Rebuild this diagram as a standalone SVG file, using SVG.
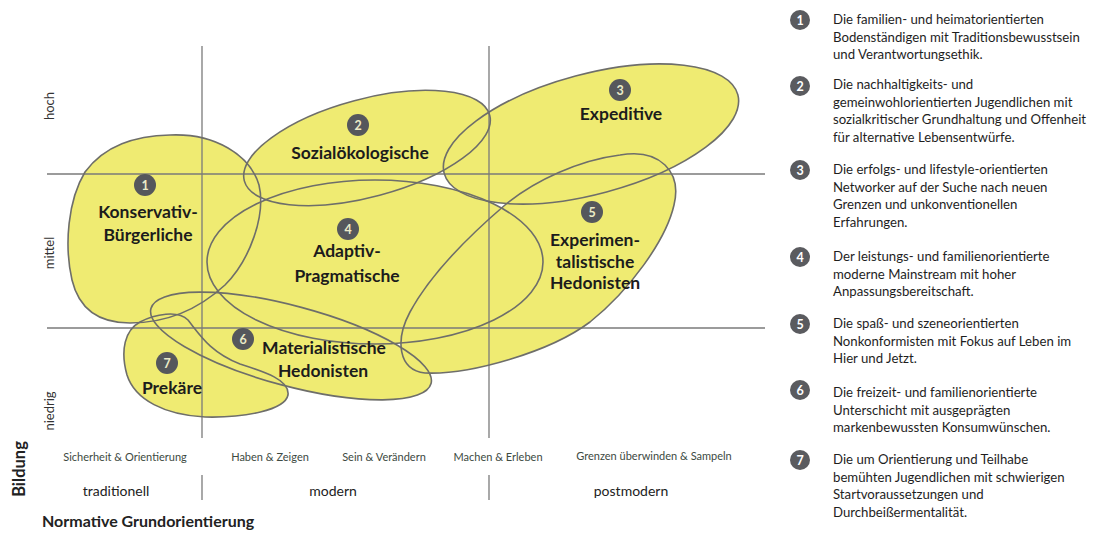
<svg xmlns="http://www.w3.org/2000/svg" xmlns:xlink="http://www.w3.org/1999/xlink" width="1100" height="534" viewBox="0 0 1100 534">
<style>
.fill{fill:#efeb72;stroke:none}
.out{fill:none;stroke:#6e6e6a;stroke-width:1.6}
.grid{stroke:#7a7a7a;stroke-width:1.3;fill:none}
.lbl{font-family:Lato,"Open Sans",sans-serif;font-weight:bold;font-size:17.5px;fill:#1c1c1c;text-anchor:middle}
.num{fill:#55575c}
.numt{font-family:Lato,"Open Sans",sans-serif;font-weight:bold;font-size:12.5px;fill:#ecebc8;text-anchor:middle}
.lnum{fill:#5a5b5f}
.lnumt{font-family:Lato,"Open Sans",sans-serif;font-weight:bold;font-size:12.5px;fill:#ffffff;text-anchor:middle}
.leg{font-family:Lato,"Open Sans",sans-serif;font-size:13.2px;fill:#1e1e1e}
.ax{font-family:Lato,"Open Sans",sans-serif;font-size:13px;fill:#333;text-anchor:middle}
.val{font-family:Lato,"Open Sans",sans-serif;font-size:11px;fill:#3d4a42;text-anchor:middle}
.era{font-family:Lato,"Open Sans",sans-serif;font-size:14px;fill:#222;text-anchor:middle}
.title{font-family:Lato,"Open Sans",sans-serif;font-weight:bold;font-size:16px;fill:#222}
</style>
<defs>
<path id="s1" d="M 170,135 C 215,133 250,155 259,185 C 266,215 250,260 225,285 C 200,308 170,323 130,323 C 95,323 78,305 72,280 C 64,245 68,200 85,172 C 105,145 135,136 170,135 Z"/>
<ellipse id="s2" cx="367" cy="148" rx="127" ry="49" transform="rotate(-15 367 148)"/>
<ellipse id="s3" cx="591" cy="134" rx="152" ry="60" transform="rotate(-15 591 134)"/>
<ellipse id="s4" cx="375" cy="262" rx="168" ry="82"/>
<path id="s5" d="M 620,155 C 660,148 682,172 674,205 C 666,240 630,290 590,322 C 550,352 470,375 425,373 C 398,370 395,340 410,312 C 430,275 470,235 505,205 C 535,180 580,160 620,155 Z"/>
<ellipse id="s6" cx="291" cy="346" rx="145" ry="40" transform="rotate(15 291 346)"/>
<path id="s7" d="M 140,322 C 155,314 178,310 188,320 C 200,335 210,352 240,364 C 265,372 290,380 288,395 C 285,410 245,418 205,417 C 165,415 135,400 127,375 C 120,350 125,330 140,322 Z"/>
</defs>
<rect width="1100" height="534" fill="#ffffff"/>
<g id="fills">
<use xlink:href="#s1" class="fill"/>
<use xlink:href="#s2" class="fill"/>
<use xlink:href="#s3" class="fill"/>
<use xlink:href="#s4" class="fill"/>
<use xlink:href="#s5" class="fill"/>
<use xlink:href="#s6" class="fill"/>
<use xlink:href="#s7" class="fill"/>
</g>
<g id="connectors">
<line class="grid" x1="47" y1="174" x2="765" y2="174"/>
<line class="grid" x1="47" y1="328" x2="765" y2="328"/>
<line class="grid" x1="202" y1="46" x2="202" y2="438"/>
<line class="grid" x1="489" y1="46" x2="489" y2="438"/>
<line class="grid" x1="202" y1="475" x2="202" y2="500"/>
<line class="grid" x1="489" y1="475" x2="489" y2="500"/>
</g>
<g id="node1">
<use xlink:href="#s1" class="out"/>
<circle class="num" cx="145" cy="185" r="11"/><text class="numt" x="145" y="189.5">1</text>
<text class="lbl" x="148" y="218">Konservativ-</text>
<text class="lbl" x="148" y="241">Bürgerliche</text>
</g>
<g id="node2">
<use xlink:href="#s2" class="out"/>
<circle class="num" cx="358" cy="125" r="11"/><text class="numt" x="358" y="129.5">2</text>
<text class="lbl" x="360" y="159">Sozialökologische</text>
</g>
<g id="node3">
<use xlink:href="#s3" class="out"/>
<circle class="num" cx="620" cy="90" r="11"/><text class="numt" x="620" y="94.5">3</text>
<text class="lbl" x="621" y="120">Expeditive</text>
</g>
<g id="node4">
<use xlink:href="#s4" class="out"/>
<circle class="num" cx="348" cy="229" r="11"/><text class="numt" x="348" y="233.5">4</text>
<text class="lbl" x="347" y="257">Adaptiv-</text>
<text class="lbl" x="347" y="282">Pragmatische</text>
</g>
<g id="node5">
<use xlink:href="#s5" class="out"/>
<circle class="num" cx="592" cy="212" r="11"/><text class="numt" x="592" y="216.5">5</text>
<text class="lbl" x="595" y="246">Experimen-</text>
<text class="lbl" x="595" y="268">talistische</text>
<text class="lbl" x="595" y="289">Hedonisten</text>
</g>
<g id="node6">
<use xlink:href="#s6" class="out"/>
<circle class="num" cx="243" cy="339" r="11"/><text class="numt" x="243" y="343.5">6</text>
<text class="lbl" x="324" y="354">Materialistische</text>
<text class="lbl" x="323" y="377">Hedonisten</text>
</g>
<g id="node7">
<use xlink:href="#s7" class="out"/>
<circle class="num" cx="167" cy="363" r="11"/><text class="numt" x="167" y="367.5">7</text>
<text class="lbl" x="172" y="394">Prekäre</text>
</g>
<g id="axes">
<text class="ax" transform="translate(54,106) rotate(-90)">hoch</text>
<text class="ax" transform="translate(54,253) rotate(-90)">mittel</text>
<text class="ax" transform="translate(54,411) rotate(-90)">niedrig</text>
<text class="title" text-anchor="middle" style="font-size:16.5px" transform="translate(25,469) rotate(-90)">Bildung</text>
<text class="val" x="125" y="461">Sicherheit &amp; Orientierung</text>
<text class="val" x="270" y="461">Haben &amp; Zeigen</text>
<text class="val" x="384" y="461">Sein &amp; Verändern</text>
<text class="val" x="498" y="461">Machen &amp; Erleben</text>
<text class="val" x="654" y="460">Grenzen überwinden &amp; Sampeln</text>
<text class="era" x="116" y="496">traditionell</text>
<text class="era" x="333" y="496">modern</text>
<text class="era" x="631" y="496">postmodern</text>
<text class="title" x="42" y="527">Normative Grundorientierung</text>
</g>
<g id="legend">
<circle class="lnum" cx="800" cy="20" r="10"/><text class="lnumt" x="800" y="24.5">1</text>
<text class="leg" x="833" y="24">Die familien- und heimatorientierten</text>
<text class="leg" x="833" y="41.5">Bodenständigen mit  Traditionsbewusstsein</text>
<text class="leg" x="833" y="59">und Verantwortungsethik.</text>
<circle class="lnum" cx="800" cy="86" r="10"/><text class="lnumt" x="800" y="90.5">2</text>
<text class="leg" x="833" y="89">Die nachhaltigkeits- und</text>
<text class="leg" x="833" y="106.5">gemeinwohlorientierten Jugendlichen mit</text>
<text class="leg" x="833" y="124">sozialkritischer Grundhaltung und Offenheit</text>
<text class="leg" x="833" y="141.5">für alternative Lebensentwürfe.</text>
<circle class="lnum" cx="800" cy="170" r="10"/><text class="lnumt" x="800" y="174.5">3</text>
<text class="leg" x="833" y="174">Die erfolgs- und lifestyle-orientierten</text>
<text class="leg" x="833" y="191.5">Networker auf der Suche nach neuen</text>
<text class="leg" x="833" y="209">Grenzen und unkonventionellen</text>
<text class="leg" x="833" y="226.5">Erfahrungen.</text>
<circle class="lnum" cx="800" cy="257" r="10"/><text class="lnumt" x="800" y="261.5">4</text>
<text class="leg" x="833" y="261">Der leistungs- und familienorientierte</text>
<text class="leg" x="833" y="278.5">moderne Mainstream mit hoher</text>
<text class="leg" x="833" y="296">Anpassungsbereitschaft.</text>
<circle class="lnum" cx="800" cy="324" r="10"/><text class="lnumt" x="800" y="328.5">5</text>
<text class="leg" x="833" y="328">Die spaß- und szeneorientierten</text>
<text class="leg" x="833" y="345.5">Nonkonformisten mit Fokus auf Leben im</text>
<text class="leg" x="833" y="363">Hier und Jetzt.</text>
<circle class="lnum" cx="800" cy="390" r="10"/><text class="lnumt" x="800" y="394.5">6</text>
<text class="leg" x="833" y="397">Die freizeit- und familienorientierte</text>
<text class="leg" x="833" y="414.5">Unterschicht mit ausgeprägten</text>
<text class="leg" x="833" y="432">markenbewussten Konsumwünschen.</text>
<circle class="lnum" cx="800" cy="460" r="10"/><text class="lnumt" x="800" y="464.5">7</text>
<text class="leg" x="833" y="464">Die um Orientierung und Teilhabe</text>
<text class="leg" x="833" y="481.5">bemühten Jugendlichen mit schwierigen</text>
<text class="leg" x="833" y="499">Startvoraussetzungen und</text>
<text class="leg" x="833" y="516.5">Durchbeißermentalität.</text>
</g>
</svg>
